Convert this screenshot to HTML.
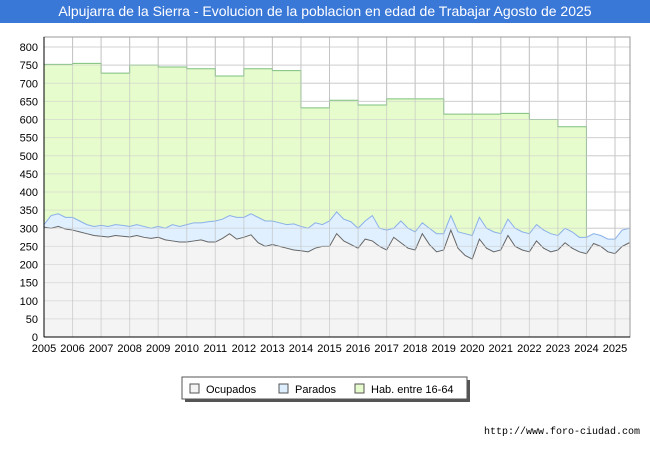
<!DOCTYPE html>
<html><head><meta charset="utf-8"><style>
body{margin:0;width:650px;height:450px;background:#fff;font-family:"Liberation Sans",sans-serif;overflow:hidden}
#title{position:absolute;left:0;top:0;width:650px;height:23px;background:#3a78d8;color:#fff;font-size:14px;line-height:23px;text-align:center}
#foot{position:absolute;right:10px;top:427px;font-size:10px;font-family:"Liberation Mono",monospace;color:#000}
</style></head><body>
<div id="title">Alpujarra de la Sierra - Evolucion de la poblacion en edad de Trabajar Agosto de 2025</div>
<svg id="chart" width="650" height="450" style="position:absolute;left:0;top:0"></svg>
<div id="foot">http://www.foro-ciudad.com</div>
<script>
const yearTicks=[2005,2006,2007,2008,2009,2010,2011,2012,2013,2014,2015,2016,2017,2018,2019,2020,2021,2022,2023,2024,2025];
const yTicks=[0,50,100,150,200,250,300,350,400,450,500,550,600,650,700,750,800];
const habYears=[2005,2006,2007,2008,2009,2010,2011,2012,2013,2014,2015,2016,2017,2018,2019,2020,2021,2022,2023];
const habValues=[752,755,728,750,745,740,720,740,735,632,653,640,657,657,615,615,617,600,580];
const paradosTotal=[310,335,340,330,330,320,310,305,308,305,310,308,305,310,305,300,305,300,310,305,310,315,315,318,320,325,335,330,330,340,330,320,320,315,310,312,305,300,315,310,320,345,325,318,300,320,335,300,295,300,320,300,290,315,300,285,285,335,290,285,280,330,300,290,285,325,300,290,285,310,295,285,280,300,290,275,275,285,280,270,270,295,300];
const ocupados=[303,300,305,298,295,290,285,280,278,276,280,278,276,280,275,272,275,268,265,262,262,265,268,262,262,272,285,270,275,282,260,250,255,250,245,240,238,235,245,250,250,285,265,255,245,270,265,250,240,275,260,245,240,285,255,235,240,295,245,225,215,270,245,235,240,280,250,240,235,265,245,235,240,260,245,235,230,258,250,235,230,250,260];
const startYear=2005, step=0.25;
const L=44,R=630,T=37,B=337;
const X=y=>L+(y-2005)*(615-44)/20;
const Y=v=>B-v*(290/800);
const svg=document.getElementById('chart');
const NS='http://www.w3.org/2000/svg';
function mk(t,a,p){const e=document.createElementNS(NS,t);for(const k in a)e.setAttribute(k,a[k]);(p||svg).appendChild(e);return e;}
mk('rect',{x:L,y:T,width:R-L,height:B-T,fill:'#fff',stroke:'none'});
// grid
yTicks.forEach(v=>{const l=mk('line',{x1:L,x2:R,y1:Y(v),y2:Y(v),stroke:'#d8d8d8'});
const t=mk('text',{x:L-6,y:Y(v)+4,'text-anchor':'end','font-size':11,fill:'#000'});t.textContent=v;});
yearTicks.forEach(yr=>{const l=mk('line',{x1:X(yr),x2:X(yr),y1:T,y2:B,stroke:'#cccccc'});
const t=mk('text',{x:X(yr),y:B+15,'text-anchor':'middle','font-size':11,fill:'#000'});t.textContent=yr;});
const tx=i=>X(startYear+i*step);
// hab area
let hp='M'+X(habYears[0])+','+Y(habValues[0]);
habValues.forEach((v,i)=>{hp+=' L'+X(habYears[i])+','+Y(v)+' L'+X(habYears[i]+1)+','+Y(v);});
const endYr=habYears[habYears.length-1]+1;
let idxEnd=Math.round((endYr-startYear)/step);
hp+=' L'+X(endYr)+','+Y(paradosTotal[idxEnd]);
let hl=hp;
for(let i=idxEnd;i>=0;i--)hp+=' L'+tx(i)+','+Y(paradosTotal[i]);
hp+='Z';
let e=mk('path',{d:hp,fill:'#e6fccc',stroke:'none'});
e=mk('path',{d:hl,fill:'none',stroke:'#7cc07c','stroke-width':1});
// parados area
let pp='M'+tx(0)+','+Y(paradosTotal[0]);paradosTotal.forEach((v,i)=>pp+=' L'+tx(i)+','+Y(v));
let pl=pp;
for(let i=ocupados.length-1;i>=0;i--)pp+=' L'+tx(i)+','+Y(ocupados[i]);pp+='Z';
e=mk('path',{d:pp,fill:'#ddeeff',stroke:'none','fill-opacity':0.9});
e=mk('path',{d:pl,fill:'none',stroke:'#8ab0e8'});
// ocupados
let op='M'+tx(0)+','+Y(ocupados[0]);ocupados.forEach((v,i)=>op+=' L'+tx(i)+','+Y(v));
let ol=op;op+=' L'+tx(ocupados.length-1)+','+B+' L'+tx(0)+','+B+'Z';
e=mk('path',{d:op,fill:'#f4f4f4',stroke:'none'});
e=mk('path',{d:ol,fill:'none',stroke:'#666'});
// redraw grid lightly over areas
yTicks.forEach(v=>{mk('line',{x1:L,x2:R,y1:Y(v),y2:Y(v),stroke:'#d0d0d0','stroke-opacity':0.6});});
yearTicks.forEach(yr=>{mk('line',{x1:X(yr),x2:X(yr),y1:T,y2:B,stroke:'#c0c0c0','stroke-opacity':0.6});});
e=mk('rect',{x:L,y:T,width:R-L,height:B-T,fill:'none',stroke:'#999'});
mk('line',{x1:L,x2:L,y1:T,y2:B,stroke:'#000'});mk('line',{x1:L,x2:R,y1:B,y2:B,stroke:'#000'});
// legend
const g=mk('g',{});
mk('rect',{x:185,y:380,width:285,height:22,fill:'#555'},g);
mk('rect',{x:182,y:377,width:285,height:22,fill:'#fff',stroke:'#555'},g);
const items=[['Ocupados','#f4f4f4',190],['Parados','#ddeeff',279],['Hab. entre 16-64','#e6fccc',355]];
items.forEach(it=>{const r=mk('rect',{x:it[2],y:384,width:9,height:9,fill:it[1],stroke:'#555'},g);
const t=mk('text',{x:it[2]+16,y:393,'font-size':11,fill:'#000'},g);t.textContent=it[0];});
</script>
</body></html>
